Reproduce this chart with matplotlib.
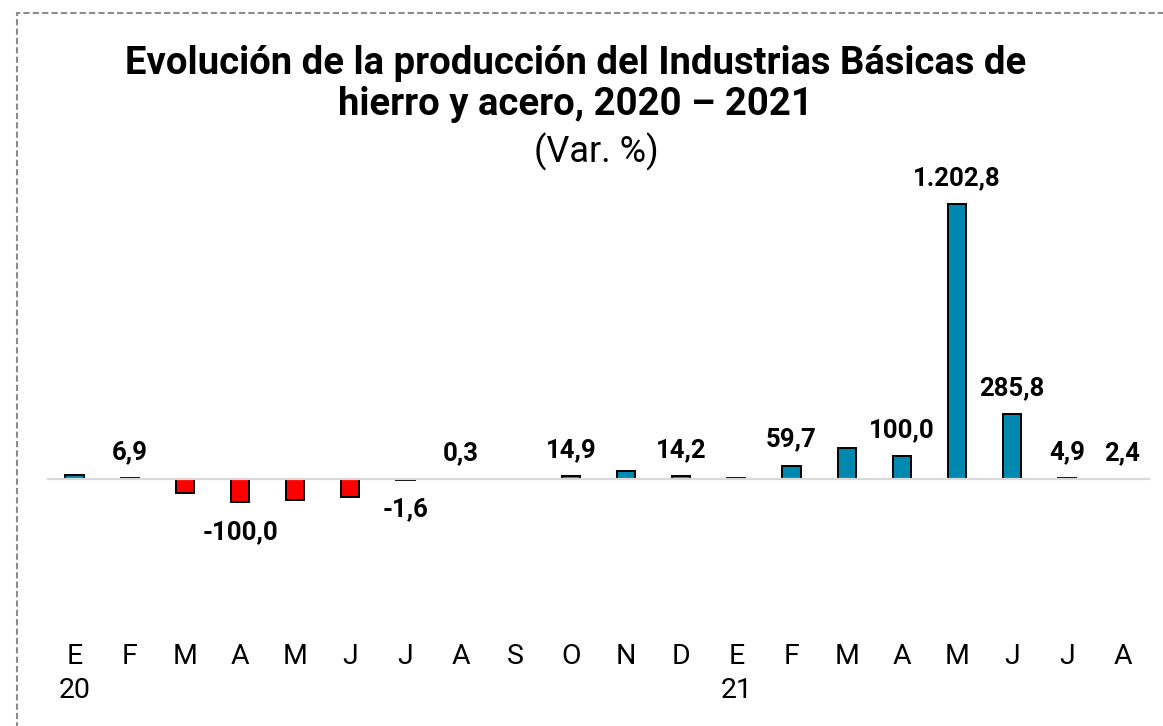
import numpy as np
import matplotlib
matplotlib.use("Agg")
from matplotlib import pyplot as plt
from matplotlib.patches import Rectangle

months = ["E", "F", "M", "A", "M", "J", "J", "A", "S", "O", "N", "D",
          "E", "F", "M", "A", "M", "J", "J", "A"]
years = {0: "20", 12: "21"}
values = [17.0, 6.9, -61.0, -100.0, -92.0, -76.0, -1.6, 0.3, 0.5, 14.9,
          36.0, 14.2, 5.0, 59.7, 139.0, 100.0, 1202.8, 285.8, 4.9, 2.4]
labelled = [0, 1, 0, 1, 0, 0, 1, 1, 0, 1, 0, 1, 0, 1, 0, 1, 1, 1, 1, 1]

BLUE = "#0089B0"
RED = "#FF0000"

plt.rcParams["font.family"] = ["Roboto", "DejaVu Sans"]

def fmt(v):
    # spanish style: 1.202,8
    s = f"{abs(v):,.1f}".replace(",", "X").replace(".", ",").replace("X", ".")
    return ("-" if v < 0 else "") + s

W, H = 1163, 726
fig = plt.figure(figsize=(W/100, H/100), dpi=100)

# axes placement in pixels
x0, x1 = 47, 1150
ytop, ybot = 190, 630
ax = fig.add_axes([x0/W, 1-ybot/H, (x1-x0)/W, (ybot-ytop)/H])

pxu = 275/1202.8
ax.set_ylim(-(ybot-479.3)/pxu, (479.3-ytop)/pxu)
ax.set_xlim(-0.5, len(values)-0.5)

x = np.arange(len(values))
cols = [BLUE if v >= 0 else RED for v in values]
ax.bar(x, values, width=0.33, color=cols, edgecolor="black", linewidth=1.4, zorder=2)
ax.axhline(0, color="#D9D9D9", lw=1.6, zorder=3)

for i, v in enumerate(values):
    if not labelled[i]:
        continue
    off = 18.7 if v >= 0 else -21.6
    ax.annotate(fmt(v), (i, v), xytext=(0, off), textcoords="offset points",
                ha="center", va="center", fontsize=18.5, fontweight="bold")

ticklabels = [m + ("\n" + years[i] if i in years else "\n ") for i, m in enumerate(months)]
ax.set_xticks(x)
ax.set_xticklabels(ticklabels, fontsize=20.5, linespacing=1.35)
ax.tick_params(axis="x", length=0, pad=9)
ax.set_yticks([])
for s in ax.spines.values():
    s.set_visible(False)

fig.text(0.495, 1-84/H, "Evolución de la producción del Industrias Básicas de\nhierro y acero, 2020 – 2021",
         ha="center", va="center", fontsize=27.5, fontweight="bold", linespacing=1.12)
fig.text(0.513, 1-152/H, "(Var. %)", ha="center", va="center", fontsize=26)

fig.patches.append(Rectangle((17/W, -0.05), 1.1, 1-13/H+0.05, transform=fig.transFigure,
                             fill=False, edgecolor="#8C8C8C", lw=1.5, linestyle=(0, (3, 1.5))))

fig.savefig("out.png", dpi=100)
